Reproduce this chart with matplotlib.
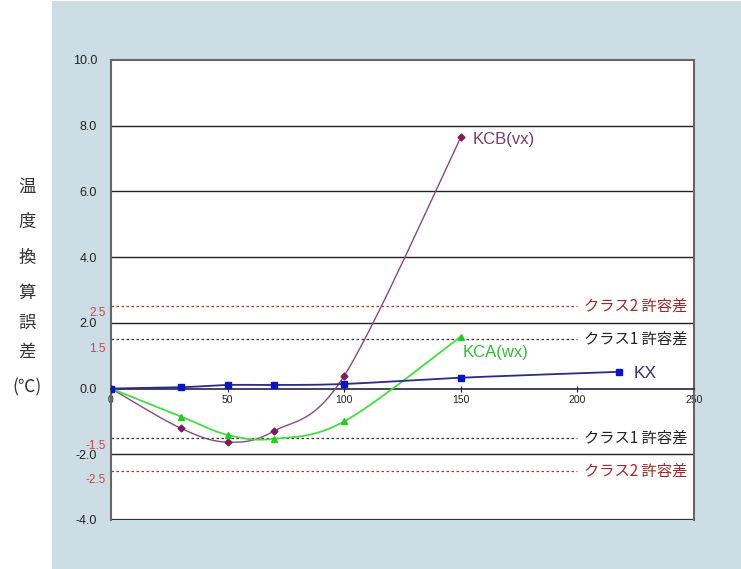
import numpy as np
import matplotlib
matplotlib.use("Agg")
import matplotlib.pyplot as plt
from matplotlib.patches import Rectangle
import matplotlib.transforms as mtransforms

plt.rcParams['font.family'] = ['Liberation Sans', 'Noto Sans CJK JP', 'DejaVu Sans']

# ---- data ----
kx_x = [0, 30, 50, 70, 100, 150, 218]
kx_y = [0.0, 0.04, 0.11, 0.11, 0.14, 0.33, 0.51]
kca_x = [0, 30, 50, 70, 100, 150]
kca_y = [0.0, -0.85, -1.41, -1.53, -1.0, 1.58]
kcb_x = [0, 30, 50, 70, 100, 150]
kcb_y = [0.0, -1.21, -1.63, -1.29, 0.39, 7.65]

yticks = [-4.0, -2.0, 0.0, 2.0, 4.0, 6.0, 8.0, 10.0]
xticks = [0, 50, 100, 150, 200, 250]
grid_levels = [-2.0, 2.0, 4.0, 6.0, 8.0]
class1 = [1.5, -1.5]
class2 = [2.5, -2.5]
class1_label = "クラス1 許容差"
class2_label = "クラス2 許容差"
ylabel_chars = ["温", "度", "換", "算", "誤", "差", "(℃)"]

W, H = 741, 569
fig = plt.figure(figsize=(W / 100, H / 100), dpi=100)
fig.patch.set_facecolor('white')
bg = Rectangle((52 / W, 0), 1 - 52 / W, 1 - 1 / H, transform=fig.transFigure,
               facecolor='#cddde6', edgecolor='none', zorder=-10)
fig.add_artist(bg)

ax = fig.add_axes([111 / W, 1 - 520 / H, (694 - 111) / W, (520 - 60) / H])
ax.set_zorder(5)
ax.set_facecolor('white')
ax.set_xlim(0, 250)
ax.set_ylim(-4, 10)


def smooth(xs, ys, n=30):
    xs = np.asarray(xs, float)
    ys = np.asarray(ys, float)
    px, py = [xs[0]], [ys[0]]
    m = len(xs)
    for i in range(m - 1):
        x0, y0 = (xs[i - 1], ys[i - 1]) if i > 0 else (xs[i], ys[i])
        x1, y1 = xs[i], ys[i]
        x2, y2 = xs[i + 1], ys[i + 1]
        x3, y3 = (xs[i + 2], ys[i + 2]) if i + 2 < m else (xs[i + 1], ys[i + 1])
        c1x, c1y = x1 + (x2 - x0) / 6, y1 + (y2 - y0) / 6
        c2x, c2y = x2 - (x3 - x1) / 6, y2 - (y3 - y1) / 6
        t = np.linspace(0, 1, n)[1:]
        bx = (1 - t) ** 3 * x1 + 3 * (1 - t) ** 2 * t * c1x + 3 * (1 - t) * t ** 2 * c2x + t ** 3 * x2
        by = (1 - t) ** 3 * y1 + 3 * (1 - t) ** 2 * t * c1y + 3 * (1 - t) * t ** 2 * c2y + t ** 3 * y2
        px.extend(bx)
        py.extend(by)
    return np.array(px), np.array(py)


# grid lines
for g in grid_levels:
    ax.axhline(g, color='#222222', lw=1.0, zorder=1)
ax.axhline(-4, color='#333333', lw=1.6, zorder=1)

# tolerance lines
for v in class2:
    ax.plot([0, 200], [v, v], color='#a83838', lw=0.9, ls=(0, (2, 2)), zorder=2)
for v in class1:
    ax.plot([0, 200], [v, v], color='#333333', lw=0.9, ls=(0, (2, 2)), zorder=2)
for v in class2:
    ax.text(203, v, class2_label, color='#a02828', fontsize=11, va='center', ha='left',
            family=['Noto Sans CJK JP'])
for v in class1:
    ax.text(203, v, class1_label, color='#222222', fontsize=11, va='center', ha='left',
            family=['Noto Sans CJK JP'])

# series
sx, sy = smooth(kcb_x, kcb_y)
ax.plot(sx, sy, color='#8a4a78', lw=1.0, zorder=4)
ax.plot(kcb_x, kcb_y, ls='none', marker='D', ms=3.5, color='#7a1f55', zorder=5)
sx, sy = smooth(kca_x, kca_y)
ax.plot(sx, sy, color='#44dd44', lw=1.3, zorder=4)
ax.plot(kca_x, kca_y, ls='none', marker='^', ms=5, color='#22cc22', zorder=5)
sx, sy = smooth(kx_x, kx_y)
ax.plot(sx, sy, color='#2a2a8a', lw=1.3, zorder=4)
ax.plot(kx_x, kx_y, ls='none', marker='s', ms=5, color='#0a14c0', zorder=6)

ax.text(155, 7.57, "KCB(vx)", color='#7a3a6a', fontsize=12, va='center', ha='left')
ax.text(150.8, 1.11, "KCA(wx)", color='#33bb33', fontsize=12, va='center', ha='left')
ax.text(224, 0.47, "KX", color='#333366', fontsize=12.5, va='center', ha='left')

# axes styling
for s in ['left', 'right', 'top']:
    ax.spines[s].set_color('#666666')
    ax.spines[s].set_linewidth(1.5)
ax.spines['bottom'].set_position(('data', 0))
ax.spines['bottom'].set_color('#222244')
ax.spines['bottom'].set_linewidth(1.2)
ax.set_xticks(xticks)
ax.set_xticklabels([str(t) for t in xticks])
ax.set_yticks(yticks)
ax.set_yticklabels(["%.1f" % t for t in yticks])
ax.tick_params(axis='x', direction='inout', length=5, width=0.8, labelsize=7.5, pad=2, colors='#222222')
ax.tick_params(axis='y', length=0, pad=10, labelsize=9, colors='#222222')

# red tolerance tick labels
trans = mtransforms.blended_transform_factory(ax.transAxes, ax.transData)
for v, off in [(2.5, -0.2), (1.5, -0.3), (-1.5, -0.25), (-2.5, -0.28)]:
    ax.text(-0.009, v + off, "%.1f" % v, color='#cc4444', fontsize=8.5, ha='right', va='center',
            transform=trans, clip_on=False)

# vertical y label
ys_px = [187, 222, 258, 293, 323, 352, 387]
for ch, ypx in zip(ylabel_chars, ys_px):
    fig.text(27 / W, 1 - ypx / H, ch, fontsize=12.5, ha='center', va='center', color='#333333',
             family=['Noto Sans CJK JP', 'DejaVu Sans'])

fig.savefig("out.png", dpi=100)
